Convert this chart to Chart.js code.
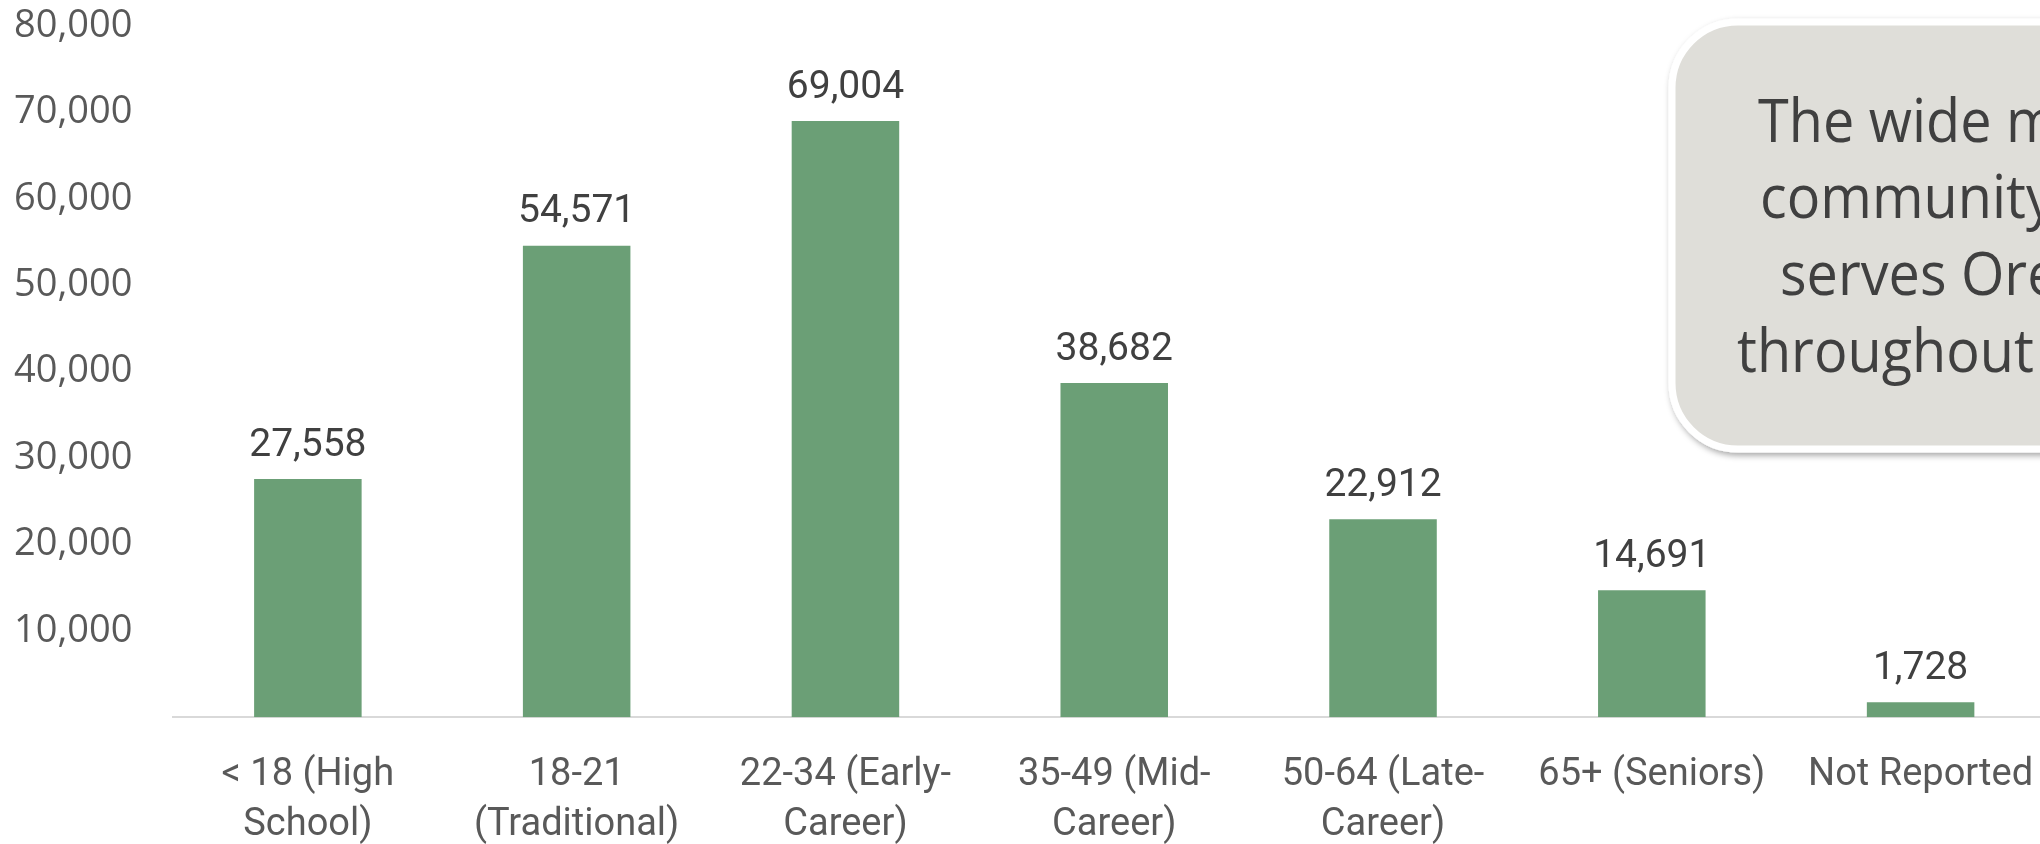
<!DOCTYPE html>
<html>
<head>
<meta charset="utf-8">
<script src="https://cdn.jsdelivr.net/npm/chart.js@4"></script>
<style>
  html, body { margin: 0; padding: 0; background: #fff; overflow: hidden; width: 2040px; height: 844px; }
  #wrap { position: absolute; left: 0; top: 0; width: 2060px; height: 880px; }
  #note { position: absolute; left: 0; top: 0; width: 2040px; height: 844px; pointer-events: none; }
</style>
</head>
<body>
<div id="wrap"><canvas id="ageChart"></canvas></div>
<svg id="note" width="2040" height="844">
  <defs>
    <filter id="shade" x="-10%" y="-10%" width="130%" height="130%">
      <feDropShadow dx="2" dy="3" stdDeviation="3" flood-color="#000" flood-opacity="0.35"/>
    </filter>
  </defs>
  <rect x="1672" y="22" width="520" height="427" rx="66" ry="66" fill="#DFDED9" stroke="#fff" stroke-width="7" filter="url(#shade)"/>
  <g font-family="'Open Sans', sans-serif" font-size="60" fill="#404040">
    <text transform="translate(1758,142) scale(0.93,1)">The wide m</text>
    <text transform="translate(1760,218) scale(0.93,1)">community</text>
    <text transform="translate(1780,295) scale(0.93,1)">serves Ore</text>
    <text transform="translate(1737,372) scale(0.93,1)">throughout</text>
  </g>
</svg>
<script>
// age groups and headcounts
const ageGroups = [
  ["< 18 (High", "School)"],
  ["18-21", "(Traditional)"],
  ["22-34 (Early-", "Career)"],
  ["35-49 (Mid-", "Career)"],
  ["50-64 (Late-", "Career)"],
  ["65+ (Seniors)"],
  ["Not Reported"]
];
const headcount = [27558, 54571, 69004, 38682, 22912, 14691, 1728];
const yMin = 0;
const yMax = 80000;
const yStep = 10000;

// draws the numbers above each bar
const barLabels = {
  id: "barLabels",
  afterDatasetsDraw(chart) {
    const ctx = chart.ctx;
    const meta = chart.getDatasetMeta(0);
    ctx.save();
    ctx.font = "39px Roboto, sans-serif";
    ctx.fillStyle = "#404040";
    ctx.textAlign = "center";
    ctx.textBaseline = "middle";
    meta.data.forEach((bar, i) => {
      ctx.fillText(headcount[i].toLocaleString("en-US"), bar.x, bar.y - 33);
    });
    ctx.restore();
  }
};

new Chart(document.getElementById("ageChart"), {
  type: "bar",
  data: {
    labels: ageGroups,
    datasets: [{
      data: headcount,
      backgroundColor: "#6B9F76",
      categoryPercentage: 0.8,
      barPercentage: 0.5
    }]
  },
  options: {
    responsive: true,
    maintainAspectRatio: false,
    devicePixelRatio: 1,
    animation: false,
    layout: { padding: { left: 14, right: 5, top: 26, bottom: 30 } },
    plugins: {
      legend: { display: false },
      tooltip: { enabled: false }
    },
    scales: {
      x: {
        // grid hidden, tick length only used as the gap under the axis
        grid: { display: false, drawTicks: true, tickLength: 34 },
        border: { display: true, color: "#D9D9D9", width: 2 },
        ticks: {
          color: "#595959",
          font: { family: "Roboto, sans-serif", size: 38, lineHeight: 1.3 },
          padding: 0,
          maxRotation: 0,
          autoSkip: false
        }
      },
      y: {
        min: yMin,
        max: yMax,
        grid: { display: false, drawTicks: true, tickLength: 41 },
        border: { display: false },
        ticks: {
          stepSize: yStep,
          color: "#595959",
          font: { family: "'Open Sans', sans-serif", size: 38 },
          padding: 0,
          callback: v => (v === 0 ? "" : v.toLocaleString("en-US"))
        }
      }
    }
  },
  plugins: [barLabels]
});
</script>
</body>
</html>
